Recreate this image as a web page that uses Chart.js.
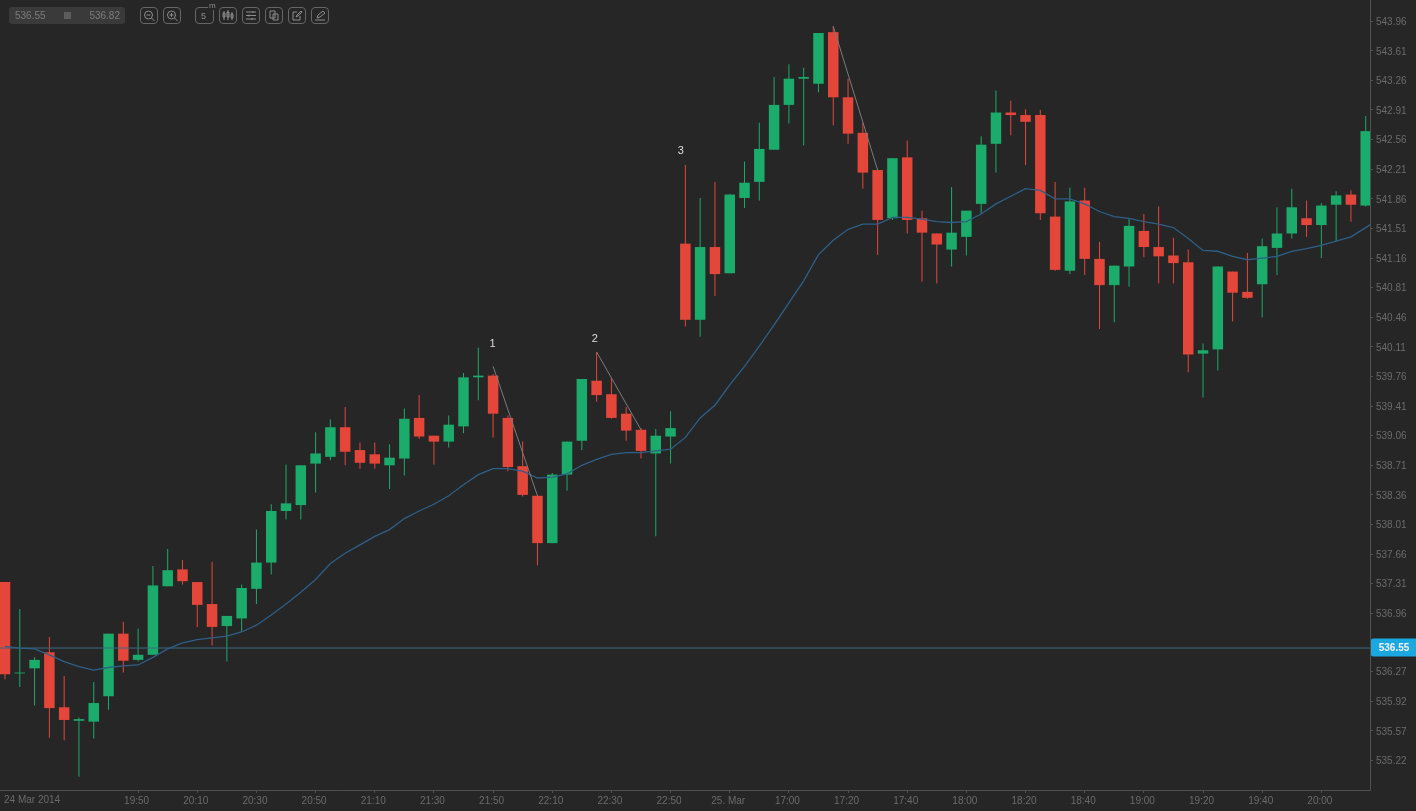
<!DOCTYPE html>
<html>
<head>
<meta charset="utf-8">
<title>Candles</title>
<script src="https://cdn.jsdelivr.net/npm/chart.js@4"></script>
<style>
  html, body { margin: 0; background: #262626; overflow: hidden; }
  #wrap { position: relative; width: 1416px; height: 811px; font-family: "Liberation Sans", Arial, sans-serif; }
  canvas { display: block; }
  .quote { position: absolute; left: 9px; top: 7px; width: 116px; height: 17px; background: #3a3a3a; border-radius: 3px; color: #7d7d7d; font-size: 10px; line-height: 17px; }
  .quote span { position: absolute; }
  .quote i { position: absolute; left: 55px; top: 5px; width: 7px; height: 7px; background: #5c5c5c; }
  .btn { position: absolute; top: 7px; width: 16px; height: 15px; border: 1px solid #666; border-radius: 4px; color: #8d8d8d; }
  .btn svg { position: absolute; left: 0; top: 0; width: 16px; height: 15px; fill: none; stroke: #8d8d8d; stroke-width: 1; }
</style>
</head>
<body>
<div id="wrap">
  <canvas id="chart" width="1416" height="811"></canvas>
  <div class="quote"><span style="left:6px">536.55</span><i></i><span style="right:5px">536.82</span></div>
  <div class="btn" style="left:140px"><svg viewBox="0 0 16 15"><circle cx="7.5" cy="7" r="4"/><path d="M5.5 7h4M10.5 10l3 3"/></svg></div>
  <div class="btn" style="left:163px"><svg viewBox="0 0 16 15"><circle cx="7.5" cy="7" r="4"/><path d="M5.5 7h4M7.5 5v4M10.5 10l3 3"/></svg></div>
  <div class="btn" style="left:195px;width:17px"><span style="position:absolute;left:5px;top:3px;font-size:9px;line-height:10px">5</span><span style="position:absolute;left:12px;top:-6px;font-size:8px;line-height:8px;background:#262626;padding:0 1px">m</span></div>
  <div class="btn" style="left:219px"><svg viewBox="0 0 16 15"><path d="M4 3v9M8 2v10M12 4v8M3 5h2v4H3zM7 4h2v5H7zM11 6h2v4h-2z"/></svg></div>
  <div class="btn" style="left:242px"><svg viewBox="0 0 16 15"><path d="M3 4h10M3 7.5h10M3 11h10M10 3v2M6 6.5v2M9 10v2"/></svg></div>
  <div class="btn" style="left:265px"><svg viewBox="0 0 16 15"><path d="M4 3h5v7H4zM7 6h5v6H7z"/></svg></div>
  <div class="btn" style="left:288px"><svg viewBox="0 0 16 15"><path d="M11 8v4H4V4h4M7 9l1-2 4-4 1 1-4 4z"/></svg></div>
  <div class="btn" style="left:311px"><svg viewBox="0 0 16 15"><path d="M3 12h10M5 10l1-3 5-4 2 2-5 4z"/></svg></div>
</div>
<script>
// 5 minute candles
const times = [
  "19:05","19:10","19:15","19:20","19:25","19:30","19:35","19:40","19:45","19:50",
  "19:55","20:00","20:05","20:10","20:15","20:20","20:25","20:30","20:35","20:40",
  "20:45","20:50","20:55","21:00","21:05","21:10","21:15","21:20","21:25","21:30",
  "21:35","21:40","21:45","21:50","21:55","22:00","22:05","22:10","22:15","22:20",
  "22:25","22:30","22:35","22:40","22:45","22:50","16:25","16:30","16:35","25. Mar",
  "16:45","16:50","16:55","17:00","17:05","17:10","17:15","17:20","17:25","17:30",
  "17:35","17:40","17:45","17:50","17:55","18:00","18:05","18:10","18:15","18:20",
  "18:25","18:30","18:35","18:40","18:45","18:50","18:55","19:00","19:05","19:10",
  "19:15","19:20","19:25","19:30","19:35","19:40","19:45","19:50","19:55","20:00",
  "20:05","20:10","20:15"
];
const opens = [
  537.33,536.25,536.31,536.50,535.85,535.69,535.68,535.98,536.72,536.41,
  536.47,537.28,537.48,537.33,537.07,536.81,536.90,537.25,537.56,538.17,
  538.24,538.73,538.81,539.16,538.89,538.84,538.71,538.79,539.27,539.06,
  538.99,539.17,539.75,539.77,539.27,538.70,538.35,537.79,538.60,539.00,
  539.71,539.55,539.32,539.13,538.85,539.05,541.33,540.43,541.29,540.98,
  541.87,542.06,542.44,542.97,543.28,543.22,543.83,543.06,542.64,542.20,
  541.63,542.35,541.63,541.45,541.26,541.41,541.80,542.51,542.88,542.85,
  542.85,541.65,541.01,541.84,541.15,540.84,541.06,541.48,541.29,541.19,
  541.11,540.03,540.08,541.00,540.76,540.85,541.28,541.45,541.63,541.55,
  541.79,541.91,541.78
];
const closes = [
  536.24,536.26,536.41,535.84,535.70,535.71,535.90,536.72,536.40,536.47,
  537.29,537.47,537.34,537.06,536.80,536.93,537.26,537.56,538.17,538.26,
  538.71,538.85,539.16,538.87,538.74,538.73,538.80,539.26,539.05,538.99,
  539.19,539.75,539.77,539.32,538.69,538.36,537.79,538.60,538.99,539.73,
  539.54,539.27,539.12,538.88,539.06,539.15,540.43,541.29,540.97,541.91,
  542.05,542.45,542.97,543.28,543.30,543.82,543.06,542.63,542.17,541.61,
  542.34,541.61,541.46,541.32,541.46,541.72,542.50,542.88,542.85,542.77,
  541.69,541.02,541.83,541.15,540.84,541.07,541.54,541.29,541.18,541.10,
  540.02,540.07,541.06,540.75,540.69,541.30,541.45,541.76,541.55,541.78,
  541.90,541.79,542.66
];
const highs = [
  537.33,537.01,536.44,536.68,536.22,535.73,536.15,536.72,536.86,536.78,
  537.52,537.72,537.59,537.33,537.57,536.93,537.30,537.95,538.25,538.72,
  538.71,539.10,539.25,539.40,538.98,538.98,538.96,539.38,539.54,539.06,
  539.30,539.80,540.10,539.79,539.30,538.99,538.36,538.62,538.99,539.73,
  540.05,539.74,539.40,539.15,539.14,539.35,542.26,541.87,542.06,541.92,
  542.30,542.76,543.30,543.45,543.41,543.82,543.90,543.28,542.76,542.20,
  542.34,542.55,541.72,541.45,542.00,541.72,542.60,543.14,543.02,542.92,
  542.91,542.06,541.99,541.99,541.35,541.07,541.62,541.68,541.77,541.40,
  541.26,540.15,541.06,541.00,541.22,541.39,541.76,541.98,541.84,541.81,
  541.95,541.96,542.84
];
const lows = [
  536.18,536.09,535.87,535.49,535.46,535.03,535.48,535.82,536.26,536.39,
  536.47,537.28,537.30,536.80,536.58,536.39,536.74,537.07,537.42,538.07,
  538.07,538.39,538.77,538.71,538.67,538.67,538.43,538.59,539.02,538.72,
  538.92,539.09,539.48,539.04,538.64,538.34,537.53,537.79,538.41,538.89,
  539.46,539.26,539.00,538.79,537.87,538.73,540.35,540.23,540.71,540.98,
  541.75,541.84,542.44,542.75,542.49,543.12,542.73,542.51,541.98,541.20,
  541.61,541.45,540.88,540.86,541.06,541.19,541.68,542.17,542.61,542.26,
  541.61,541.01,540.97,540.96,540.32,540.40,540.82,541.17,540.86,540.86,
  539.81,539.51,539.83,540.41,540.68,540.46,540.96,541.39,541.41,541.16,
  541.36,541.59,541.77
];
// moving average, last value runs past the right edge
const ma = [
  536.57,536.55,536.54,536.47,536.39,536.33,536.29,536.32,536.34,536.35,
  536.44,536.54,536.61,536.65,536.67,536.69,536.74,536.82,536.94,537.07,
  537.21,537.36,537.55,537.67,537.77,537.87,537.95,538.08,538.17,538.25,
  538.35,538.48,538.60,538.67,538.67,538.64,538.56,538.57,538.61,538.71,
  538.78,538.84,538.86,538.86,538.88,538.90,539.04,539.27,539.42,539.66,
  539.88,540.12,540.37,540.63,540.89,541.20,541.37,541.50,541.56,541.56,
  541.64,541.64,541.62,541.59,541.58,541.59,541.68,541.80,541.89,541.98,
  541.96,541.86,541.86,541.80,541.71,541.65,541.63,541.59,541.56,541.52,
  541.39,541.25,541.24,541.18,541.14,541.16,541.18,541.24,541.27,541.31,
  541.36,541.41,541.52,541.63
];
const lastPrice = 536.55;
const priceTicks = [543.96,543.61,543.26,542.91,542.56,542.21,541.86,541.51,541.16,540.81,540.46,540.11,539.76,539.41,539.06,538.71,538.36,538.01,537.66,537.31,536.96,536.27,535.92,535.57,535.22];
const timeTicks = [9,13,17,21,25,29,33,37,41,45,49,53,57,61,65,69,73,77,81,85,89];
// the hand drawn trend lines and their numbers
const trend1 = [[33,539.88],[36,538.35]];
const trend2 = [[40,540.05],[43,539.13]];
const trend3 = [[56,543.90],[59,542.20]];
const markIndex = [32.97,39.87,45.7];
const markPrice = [540.14,540.20,542.42];
const markText = ["1","2","3"];

const green = "#1bab6a", red = "#e5463a";
const bgColors = closes.map((c, i) => (c >= opens[i] ? green : red));
const axisColor = "#505050", tickColor = "#6b6b6b";
const font = { family: "'Liberation Sans', Arial, sans-serif", size: 10 };

const toPoints = (line) => line.map((p) => ({ x: p[0], y: p[1] }));
const trendSet = (line) => ({
  type: "line", data: toPoints(line), order: 0, borderColor: "#7c7c7c", borderWidth: 1, pointRadius: 0
});

// price tag, date text and numbers go on top of the chart
const extras = {
  id: "extras",
  afterDraw(chart) {
    const ctx = chart.ctx, x = chart.scales.x, y = chart.scales.y;
    ctx.save();
    ctx.font = "11px 'Liberation Sans', Arial, sans-serif";
    ctx.fillStyle = "#dedede";
    ctx.textAlign = "center";
    ctx.textBaseline = "middle";
    markText.forEach((t, i) => ctx.fillText(t, x.getPixelForValue(markIndex[i]), y.getPixelForValue(markPrice[i])));

    const py = y.getPixelForValue(lastPrice);
    ctx.fillStyle = "#1ba8e0";
    ctx.beginPath();
    ctx.roundRect(x.right + 1, py - 9.5, 46, 18, [2, 0, 0, 2]);
    ctx.fill();
    ctx.fillStyle = "#f2f2f2";
    ctx.font = "bold 10px 'Liberation Sans', Arial, sans-serif";
    ctx.fillText(lastPrice.toFixed(2), x.right + 24, py);

    ctx.font = font.size + "px 'Liberation Sans', Arial, sans-serif";
    ctx.fillStyle = tickColor;
    ctx.textAlign = "left";
    ctx.fillText("24 Mar 2014", 4, 800);
    ctx.restore();
  }
};

new Chart(document.getElementById("chart"), {
  type: "bar",
  plugins: [extras],
  data: {
    datasets: [
      {
        type: "line",
        data: ma.map((v, i) => ({ x: i, y: v })),
        order: 1,
        borderColor: "#2e5f88",
        borderWidth: 1.3,
        pointRadius: 0
      },
      {
        type: "line",
        data: [{ x: -1, y: lastPrice }, { x: 93, y: lastPrice }],
        order: 1,
        borderColor: "#3b6a80",
        borderWidth: 1,
        pointRadius: 0
      },
      trendSet(trend1),
      trendSet(trend2),
      trendSet(trend3),
      {
        data: opens.map((o, i) => ({ x: i, y: [o, closes[i]] })),
        order: 2,
        grouped: false,
        maxBarThickness: 10.5,
        backgroundColor: bgColors,
        borderWidth: 0
      },
      {
        data: lows.map((l, i) => ({ x: i, y: [l, highs[i]] })),
        order: 3,
        grouped: false,
        maxBarThickness: 1,
        backgroundColor: bgColors,
        borderWidth: 0
      }
    ]
  },
  options: {
    responsive: false,
    animation: false,
    events: [],
    layout: { padding: 0 },
    plugins: { legend: { display: false }, tooltip: { enabled: false } },
    scales: {
      x: {
        type: "linear",
        offset: false,
        min: -0.338,
        max: 92.29,
        afterBuildTicks: (scale) => { scale.ticks = timeTicks.map((v) => ({ value: v })); },
        afterFit: (scale) => { scale.height = 21; scale.paddingLeft = 0; scale.paddingRight = 0; },
        grid: { offset: false, drawOnChartArea: false, tickLength: 3, color: axisColor },
        border: { color: axisColor },
        ticks: {
          autoSkip: false,
          maxRotation: 0,
          padding: 2,
          labelOffset: -1.5,
          color: tickColor,
          font: font,
          callback: (v) => times[v]
        }
      },
      y: {
        position: "right",
        min: 534.872,
        max: 544.21,
        afterBuildTicks: (scale) => { scale.ticks = priceTicks.map((v) => ({ value: v })); },
        afterFit: (scale) => { scale.width = 46; scale.paddingTop = 0; scale.paddingBottom = 0; },
        grid: { drawOnChartArea: false, tickLength: 3, color: axisColor },
        border: { color: axisColor },
        ticks: {
          padding: 3,
          labelOffset: 1,
          color: tickColor,
          font: font,
          callback: (v) => v.toFixed(2)
        }
      }
    }
  }
});
</script>
</body>
</html>
